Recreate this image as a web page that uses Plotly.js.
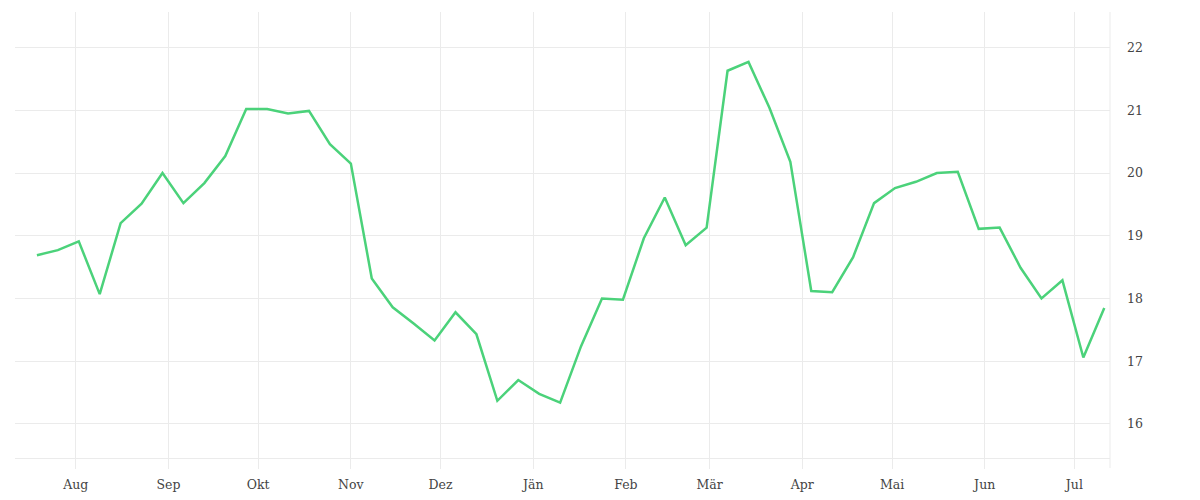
<!DOCTYPE html>
<html>
<head>
<meta charset="utf-8">
<script src="https://cdn.plot.ly/plotly-3.0.1.min.js"></script>
<style>html,body{margin:0;padding:0;background:#fff;}#chart{width:1200px;height:500px;}</style>
</head>
<body>
<div id="chart"></div>
<script>
const dates = [
  '2022-07-19','2022-07-26','2022-08-02','2022-08-09','2022-08-16','2022-08-23','2022-08-30',
  '2022-09-06','2022-09-13','2022-09-20','2022-09-27','2022-10-04','2022-10-11','2022-10-18',
  '2022-10-25','2022-11-01','2022-11-08','2022-11-15','2022-11-22','2022-11-29','2022-12-06',
  '2022-12-13','2022-12-20','2022-12-27','2023-01-03','2023-01-10','2023-01-17','2023-01-24',
  '2023-01-31','2023-02-07','2023-02-14','2023-02-21','2023-02-28','2023-03-07','2023-03-14',
  '2023-03-21','2023-03-28','2023-04-04','2023-04-11','2023-04-18','2023-04-25','2023-05-02',
  '2023-05-09','2023-05-16','2023-05-23','2023-05-30','2023-06-06','2023-06-13','2023-06-20',
  '2023-06-27','2023-07-04','2023-07-11'
];
const values = [
  18.69, 18.77, 18.91, 18.07, 19.20, 19.51, 20.00,
  19.52, 19.84, 20.27, 21.02, 21.02, 20.95, 20.99,
  20.46, 20.15, 18.32, 17.86, 17.60, 17.33, 17.78,
  17.43, 16.37, 16.70, 16.48, 16.34, 17.24, 18.00,
  17.98, 18.96, 19.61, 18.85, 19.13, 21.63, 21.77,
  21.04, 20.18, 18.12, 18.10, 18.66, 19.52, 19.76,
  19.86, 20.00, 20.02, 19.11, 19.13, 18.49, 18.00,
  18.29, 17.06, 17.85
];
const monthTicks = ['2022-08-01','2022-09-01','2022-10-01','2022-11-01','2022-12-01','2023-01-01',
  '2023-02-01','2023-03-01','2023-04-01','2023-05-01','2023-06-01','2023-07-01'];
const monthLabels = ['Aug','Sep','Okt','Nov','Dez','Jän','Feb','Mär','Apr','Mai','Jun','Jul'];
const yTicks = [16,17,18,19,20,21,22];

const grid = '#ebebeb';
const font = {family: '"DejaVu Serif", serif', size: 12.5, color: '#444'};

Plotly.newPlot('chart', [{
  x: dates, y: values, type: 'scatter', mode: 'lines',
  line: {color: '#4bd27a', width: 2.5}, hoverinfo: 'x+y'
}], {
  width: 1200, height: 500,
  margin: {l: 15, r: 90, t: 12, b: 42},
  paper_bgcolor: '#fff', plot_bgcolor: '#fff',
  showlegend: false,
  font: font,
  xaxis: {
    type: 'date',
    range: ['2022-07-11 16:00', '2023-07-12 22:00'],
    tickvals: monthTicks, ticktext: monthLabels,
    showgrid: true, gridcolor: grid, gridwidth: 1,
    ticks: 'outside', ticklen: 10, tickcolor: grid, tickwidth: 1,
    showline: true, linecolor: grid, linewidth: 1,
    zeroline: false, tickfont: font, ticklabelstandoff: 5
  },
  yaxis: {
    side: 'right',
    range: [15.458, 22.566],
    tickvals: yTicks,
    showgrid: true, gridcolor: grid, gridwidth: 1,
    ticks: '', showline: false, zeroline: false,
    tickfont: font, ticklabelstandoff: 16
  },
  shapes: [{
    type: 'line', xref: 'paper', yref: 'paper',
    x0: 1, x1: 1, y0: -0.0224, y1: 1,
    line: {color: grid, width: 1}
  }]
}, {displayModeBar: false, staticPlot: true});
</script>
</body>
</html>
